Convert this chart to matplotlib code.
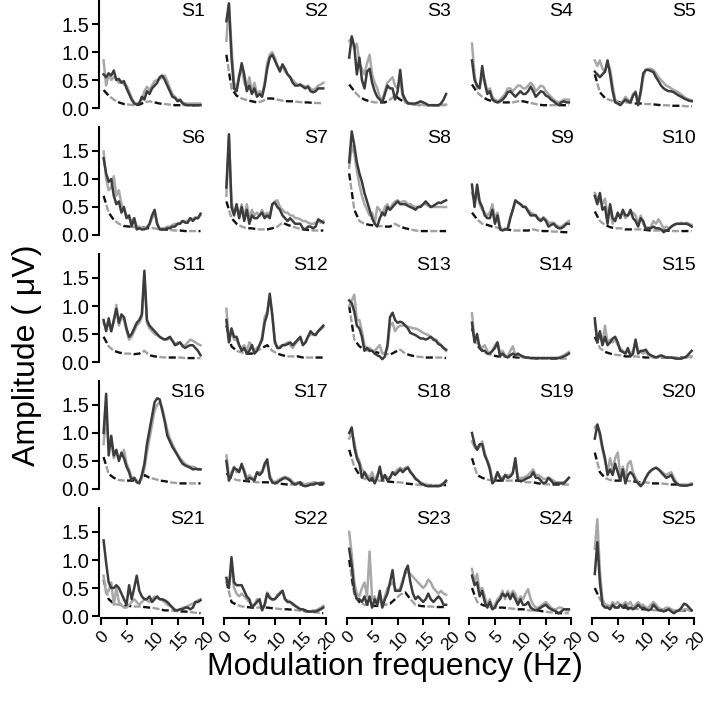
import numpy as np
import matplotlib
matplotlib.use("Agg")
import matplotlib.pyplot as plt
from matplotlib.transforms import ScaledTranslation

plt.rcParams['font.family'] = ['Liberation Sans', 'DejaVu Sans']

# modulation frequencies (Hz)
freq = [0.5 * k for k in range(1, 40)]
noise_freq = [k + 0.5 for k in range(20)]

x_ticks = [0, 5, 10, 15, 20]
y_ticks = [0.0, 0.5, 1.0, 1.5]

S1_dark = [.60, .55, .62, .58, .67, .50, .52, .45, .48, .35, .25, .15, .08, .06, .08, .20, .15, .30, .25, .35, .40, .45, .55, .58, .50, .40, .30, .20, .18, .12, .15, .08, .06, .05, .05, .05, .05, .05, .05]
S1_gray = [.85, .40, .60, .50, .55, .52, .45, .48, .42, .40, .30, .18, .10, .08, .10, .15, .30, .38, .32, .40, .48, .50, .52, .55, .58, .48, .35, .25, .20, .15, .12, .10, .08, .08, .08, .08, .08, .08, .08]
S1_noise = [.32, .22, .15, .10, .07, .06, .05, .06, .10, .12, .10, .08, .07, .06, .05, .05, .05, .05, .05, .05]

S2_dark = [1.55, 1.87, 0.9, 0.35, 0.3, 0.55, 0.8, 0.6, 0.3, 0.4, 0.25, 0.35, 0.2, 0.25, 0.2, 0.4, 0.7, 0.9, 0.95, 0.85, 0.75, 0.65, 0.78, 0.7, 0.6, 0.55, 0.45, 0.4, 0.4, 0.42, 0.38, 0.35, 0.38, 0.3, 0.28, 0.3, 0.35, 0.35, 0.35]
S2_gray = [1.2, 1.85, 1.1, 0.45, 0.35, 0.6, 0.7, 0.45, 0.35, 0.55, 0.3, 0.45, 0.25, 0.3, 0.25, 0.45, 0.8, 0.95, 1.0, 0.9, 0.75, 0.7, 0.75, 0.65, 0.6, 0.55, 0.5, 0.45, 0.42, 0.4, 0.4, 0.38, 0.4, 0.35, 0.32, 0.35, 0.4, 0.42, 0.45]
S2_noise = [.95, .35, .22, .17, .14, .12, .10, .12, .17, .17, .15, .13, .12, .12, .11, .10, .10, .09, .09, .08]

S3_dark = [0.9, 1.28, 1.1, 0.6, 0.9, 0.5, 0.35, 0.65, 0.7, 0.45, 0.3, 0.2, 0.15, 0.1, 0.25, 0.4, 0.35, 0.35, 0.15, 0.3, 0.68, 0.25, 0.15, 0.08, 0.08, 0.08, 0.08, 0.1, 0.12, 0.1, 0.08, 0.05, 0.05, 0.05, 0.05, 0.05, 0.08, 0.15, 0.25]
S3_gray = [1.2, 1.25, 1.05, 1.15, 0.8, 0.7, 0.6, 0.8, 0.95, 0.6, 0.45, 0.35, 0.2, 0.15, 0.3, 0.45, 0.5, 0.55, 0.4, 0.35, 0.5, 0.2, 0.1, 0.1, 0.08, 0.06, 0.06, 0.06, 0.06, 0.06, 0.06, 0.05, 0.05, 0.05, 0.05, 0.05, 0.05, 0.06, 0.06]
S3_noise = [.42, .30, .20, .15, .12, .10, .10, .10, .15, .22, .15, .10, .08, .06, .05, .05, .05, .05, .05, .05]

S4_dark = [0.85, 0.5, 0.4, 0.35, 0.75, 0.45, 0.25, 0.3, 0.15, 0.12, 0.1, 0.12, 0.15, 0.2, 0.28, 0.3, 0.25, 0.2, 0.25, 0.3, 0.25, 0.25, 0.3, 0.38, 0.3, 0.2, 0.25, 0.3, 0.28, 0.22, 0.2, 0.15, 0.12, 0.08, 0.05, 0.1, 0.12, 0.1, 0.1]
S4_gray = [1.15, 0.6, 0.35, 0.4, 0.55, 0.5, 0.3, 0.35, 0.2, 0.15, 0.12, 0.15, 0.2, 0.25, 0.35, 0.35, 0.3, 0.35, 0.4, 0.4, 0.35, 0.35, 0.4, 0.45, 0.4, 0.3, 0.35, 0.4, 0.38, 0.3, 0.25, 0.2, 0.15, 0.12, 0.1, 0.12, 0.15, 0.15, 0.15]
S4_noise = [.42, .28, .20, .15, .12, .10, .10, .10, .10, .12, .12, .10, .08, .06, .05, .05, .05, .05, .05, .05]

S5_dark = [0.65, 0.6, 0.55, 0.6, 0.65, 0.85, 0.6, 0.3, 0.1, 0.08, 0.05, 0.1, 0.15, 0.12, 0.1, 0.22, 0.28, 0.05, 0.3, 0.62, 0.68, 0.68, 0.66, 0.64, 0.55, 0.48, 0.4, 0.35, 0.32, 0.3, 0.3, 0.28, 0.25, 0.22, 0.2, 0.17, 0.15, 0.13, 0.12]
S5_gray = [0.85, 0.75, 0.85, 0.7, 0.65, 0.8, 0.7, 0.4, 0.15, 0.1, 0.08, 0.12, 0.2, 0.15, 0.12, 0.25, 0.3, 0.1, 0.25, 0.55, 0.68, 0.7, 0.7, 0.68, 0.62, 0.55, 0.5, 0.45, 0.4, 0.38, 0.35, 0.32, 0.3, 0.27, 0.24, 0.2, 0.17, 0.15, 0.14]
S5_noise = [.60, .28, .18, .14, .12, .10, .10, .09, .08, .08, .07, .07, .06, .05, .05, .04, .04, .04, .03, .03]

S6_dark = [1.37, 1.1, 0.95, 1.0, 0.7, 0.55, 0.6, 0.4, 0.5, 0.3, 0.35, 0.15, 0.3, 0.1, 0.12, 0.1, 0.1, 0.12, 0.2, 0.35, 0.45, 0.2, 0.1, 0.1, 0.1, 0.12, 0.12, 0.15, 0.15, 0.2, 0.2, 0.25, 0.22, 0.22, 0.3, 0.25, 0.3, 0.3, 0.38]
S6_gray = [1.49, 1.0, 0.8, 0.85, 1.05, 0.7, 0.8, 0.55, 0.45, 0.35, 0.3, 0.25, 0.3, 0.15, 0.15, 0.12, 0.12, 0.15, 0.18, 0.3, 0.4, 0.2, 0.12, 0.12, 0.12, 0.15, 0.15, 0.18, 0.2, 0.2, 0.22, 0.25, 0.25, 0.25, 0.3, 0.28, 0.32, 0.3, 0.35]
S6_noise = [.70, .40, .27, .20, .16, .15, .14, .14, .13, .12, .12, .10, .10, .09, .08, .08, .07, .07, .07, .07]

S7_dark = [0.85, 1.8, 0.5, 0.35, 0.55, 0.3, 0.5, 0.25, 0.45, 0.2, 0.35, 0.3, 0.3, 0.35, 0.4, 0.3, 0.35, 0.3, 0.55, 0.58, 0.5, 0.45, 0.35, 0.3, 0.25, 0.3, 0.25, 0.2, 0.2, 0.2, 0.12, 0.1, 0.15, 0.15, 0.12, 0.15, 0.28, 0.25, 0.22]
S7_gray = [0.7, 1.75, 0.6, 0.4, 0.5, 0.35, 0.55, 0.3, 0.55, 0.3, 0.45, 0.35, 0.4, 0.35, 0.45, 0.35, 0.4, 0.35, 0.55, 0.6, 0.62, 0.5, 0.45, 0.4, 0.4, 0.35, 0.35, 0.3, 0.3, 0.28, 0.25, 0.25, 0.22, 0.2, 0.2, 0.22, 0.25, 0.22, 0.25]
S7_noise = [.60, .30, .20, .15, .12, .12, .10, .10, .10, .12, .15, .22, .18, .15, .12, .10, .09, .08, .08, .08]

S8_dark = [1.3, 1.85, 1.6, 1.3, 1.1, 0.95, 0.75, 0.6, 0.45, 0.3, 0.2, 0.15, 0.3, 0.4, 0.35, 0.5, 0.45, 0.5, 0.55, 0.6, 0.55, 0.55, 0.55, 0.52, 0.5, 0.48, 0.45, 0.5, 0.5, 0.55, 0.6, 0.55, 0.5, 0.52, 0.55, 0.58, 0.57, 0.6, 0.62]
S8_gray = [1.2, 1.6, 1.45, 1.15, 0.9, 0.7, 0.55, 0.45, 0.35, 0.4, 0.2, 0.5, 0.45, 0.35, 0.5, 0.55, 0.45, 0.55, 0.6, 0.62, 0.58, 0.6, 0.6, 0.55, 0.55, 0.52, 0.5, 0.5, 0.52, 0.55, 0.55, 0.52, 0.5, 0.5, 0.5, 0.5, 0.5, 0.5, 0.5]
S8_noise = [1.10, .45, .25, .20, .18, .17, .16, .15, .15, .20, .15, .12, .10, .08, .07, .07, .07, .07, .07, .07]

S9_dark = [0.9, 0.5, 0.9, 0.6, 0.5, 0.35, 0.3, 0.3, 0.45, 0.2, 0.35, 0.1, 0.08, 0.1, 0.1, 0.3, 0.45, 0.62, 0.58, 0.55, 0.5, 0.5, 0.42, 0.35, 0.35, 0.35, 0.28, 0.25, 0.3, 0.25, 0.15, 0.18, 0.2, 0.15, 0.12, 0.12, 0.15, 0.2, 0.2]
S9_gray = [0.75, 0.6, 0.75, 0.55, 0.45, 0.4, 0.35, 0.4, 0.55, 0.3, 0.4, 0.15, 0.1, 0.1, 0.12, 0.3, 0.45, 0.6, 0.58, 0.55, 0.52, 0.5, 0.45, 0.4, 0.38, 0.35, 0.3, 0.28, 0.32, 0.28, 0.22, 0.22, 0.22, 0.18, 0.15, 0.15, 0.18, 0.22, 0.25]
S9_noise = [.40, .28, .20, .18, .15, .13, .12, .10, .08, .08, .08, .08, .10, .08, .07, .07, .06, .06, .05, .05]

S10_dark = [0.7, 0.55, 0.75, 0.45, 0.5, 0.2, 0.55, 0.3, 0.25, 0.4, 0.3, 0.45, 0.35, 0.35, 0.45, 0.3, 0.25, 0.15, 0.3, 0.25, 0.1, 0.12, 0.12, 0.15, 0.12, 0.12, 0.1, 0.05, 0.08, 0.1, 0.15, 0.18, 0.2, 0.2, 0.2, 0.2, 0.2, 0.18, 0.15]
S10_gray = [0.75, 0.65, 0.6, 0.55, 0.65, 0.35, 0.5, 0.2, 0.3, 0.35, 0.35, 0.4, 0.3, 0.35, 0.4, 0.4, 0.35, 0.2, 0.35, 0.2, 0.15, 0.12, 0.15, 0.25, 0.2, 0.28, 0.2, 0.12, 0.15, 0.12, 0.15, 0.18, 0.2, 0.2, 0.22, 0.2, 0.22, 0.2, 0.18]
S10_noise = [.42, .25, .18, .14, .12, .12, .10, .10, .10, .10, .09, .08, .08, .08, .08, .07, .07, .07, .07, .07]

S11_dark = [0.75, 0.55, 0.78, 0.55, 0.75, 0.95, 0.7, 0.85, 0.8, 0.6, 0.45, 0.5, 0.6, 0.7, 0.75, 0.85, 1.63, 0.75, 0.65, 0.6, 0.55, 0.5, 0.45, 0.42, 0.4, 0.42, 0.45, 0.38, 0.3, 0.32, 0.35, 0.28, 0.25, 0.28, 0.3, 0.3, 0.25, 0.2, 0.12]
S11_gray = [0.7, 0.6, 0.7, 0.55, 0.7, 1.02, 0.65, 0.8, 0.75, 0.55, 0.4, 0.45, 0.55, 0.65, 0.7, 0.8, 1.55, 0.7, 0.6, 0.55, 0.5, 0.48, 0.45, 0.42, 0.4, 0.4, 0.42, 0.38, 0.32, 0.35, 0.35, 0.3, 0.3, 0.35, 0.4, 0.38, 0.35, 0.32, 0.3]
S11_noise = [.45, .28, .20, .17, .15, .15, .14, .15, .20, .12, .10, .09, .08, .08, .08, .08, .07, .07, .07, .07]

S12_dark = [0.75, 0.35, 0.6, 0.45, 0.45, 0.3, 0.2, 0.25, 0.15, 0.2, 0.3, 0.15, 0.2, 0.3, 0.4, 0.7, 0.85, 1.22, 0.85, 0.35, 0.25, 0.25, 0.3, 0.3, 0.32, 0.35, 0.3, 0.35, 0.4, 0.45, 0.3, 0.35, 0.45, 0.55, 0.5, 0.48, 0.55, 0.6, 0.65]
S12_gray = [0.95, 0.4, 0.55, 0.4, 0.4, 0.3, 0.25, 0.3, 0.2, 0.35, 0.3, 0.2, 0.25, 0.3, 0.45, 0.8, 0.9, 1.15, 0.8, 0.4, 0.25, 0.28, 0.3, 0.32, 0.35, 0.3, 0.25, 0.32, 0.38, 0.42, 0.32, 0.35, 0.45, 0.5, 0.48, 0.5, 0.55, 0.58, 0.62]
S12_noise = [.65, .28, .20, .17, .15, .15, .20, .25, .30, .20, .15, .12, .10, .10, .10, .08, .08, .08, .08, .08]

S13_dark = [1.1, 1.05, 0.9, 0.65, 0.6, 0.45, 0.2, 0.25, 0.2, 0.2, 0.15, 0.12, 0.1, 0.05, 0.1, 0.3, 0.8, 0.88, 0.75, 0.7, 0.72, 0.7, 0.65, 0.6, 0.52, 0.5, 0.48, 0.45, 0.42, 0.42, 0.4, 0.42, 0.45, 0.4, 0.38, 0.32, 0.3, 0.25, 0.22]
S13_gray = [1.0, 1.1, 1.2, 0.75, 0.75, 0.55, 0.3, 0.25, 0.25, 0.2, 0.2, 0.25, 0.3, 0.15, 0.15, 0.25, 0.65, 0.7, 0.55, 0.62, 0.65, 0.65, 0.65, 0.63, 0.62, 0.6, 0.6, 0.58, 0.55, 0.52, 0.5, 0.48, 0.45, 0.42, 0.4, 0.35, 0.3, 0.25, 0.2]
S13_noise = [1.00, .40, .28, .22, .20, .18, .16, .15, .13, .18, .22, .15, .12, .10, .09, .08, .08, .08, .08, .07]

S14_dark = [0.7, 0.35, 0.5, 0.25, 0.2, 0.2, 0.15, 0.15, 0.2, 0.25, 0.35, 0.1, 0.15, 0.1, 0.08, 0.12, 0.15, 0.12, 0.15, 0.12, 0.1, 0.08, 0.08, 0.07, 0.07, 0.07, 0.07, 0.07, 0.07, 0.07, 0.07, 0.07, 0.07, 0.07, 0.07, 0.08, 0.1, 0.12, 0.15]
S14_gray = [0.87, 0.4, 0.35, 0.3, 0.25, 0.3, 0.2, 0.15, 0.2, 0.3, 0.35, 0.15, 0.2, 0.12, 0.1, 0.2, 0.28, 0.12, 0.12, 0.1, 0.08, 0.08, 0.07, 0.07, 0.07, 0.07, 0.07, 0.07, 0.07, 0.07, 0.07, 0.07, 0.07, 0.07, 0.08, 0.1, 0.12, 0.15, 0.18]
S14_noise = [.60, .30, .20, .15, .12, .10, .10, .10, .09, .08, .08, .08, .07, .06, .06, .06, .06, .06, .06, .06]

S15_dark = [0.78, 0.35, 0.55, 0.3, 0.45, 0.3, 0.35, 0.42, 0.45, 0.35, 0.2, 0.18, 0.15, 0.25, 0.1, 0.15, 0.4, 0.15, 0.2, 0.2, 0.22, 0.15, 0.12, 0.1, 0.08, 0.1, 0.12, 0.1, 0.08, 0.08, 0.08, 0.07, 0.06, 0.06, 0.06, 0.08, 0.1, 0.15, 0.2]
S15_gray = [0.7, 0.4, 0.45, 0.35, 0.65, 0.35, 0.4, 0.35, 0.4, 0.3, 0.25, 0.2, 0.15, 0.2, 0.15, 0.2, 0.35, 0.2, 0.18, 0.15, 0.18, 0.12, 0.1, 0.1, 0.08, 0.1, 0.1, 0.08, 0.08, 0.08, 0.08, 0.07, 0.07, 0.07, 0.07, 0.08, 0.08, 0.1, 0.1]
S15_noise = [.45, .25, .18, .15, .13, .12, .10, .10, .10, .09, .08, .08, .08, .08, .08, .08, .08, .08, .08, .08]

S16_dark = [1.0, 1.7, 0.6, 0.95, 0.6, 0.7, 0.5, 0.65, 0.55, 0.4, 0.3, 0.15, 0.2, 0.12, 0.1, 0.25, 0.45, 0.8, 1.05, 1.3, 1.55, 1.62, 1.6, 1.4, 1.2, 0.95, 0.85, 0.75, 0.68, 0.6, 0.52, 0.45, 0.42, 0.4, 0.38, 0.35, 0.36, 0.35, 0.35]
S16_gray = [0.8, 1.3, 0.8, 0.85, 0.55, 0.65, 0.55, 0.6, 0.7, 0.45, 0.35, 0.2, 0.2, 0.15, 0.12, 0.2, 0.35, 0.65, 0.9, 1.15, 1.4, 1.5, 1.55, 1.45, 1.25, 1.05, 0.9, 0.8, 0.7, 0.62, 0.55, 0.5, 0.45, 0.42, 0.4, 0.4, 0.38, 0.36, 0.35]
S16_noise = [.57, .27, .20, .16, .15, .15, .15, .14, .25, .20, .18, .15, .14, .12, .11, .10, .10, .10, .10, .10]

S17_dark = [0.5, 0.15, 0.25, 0.38, 0.35, 0.3, 0.45, 0.3, 0.15, 0.2, 0.18, 0.15, 0.3, 0.25, 0.3, 0.45, 0.53, 0.2, 0.12, 0.1, 0.12, 0.15, 0.18, 0.2, 0.18, 0.15, 0.1, 0.08, 0.1, 0.12, 0.06, 0.05, 0.06, 0.08, 0.08, 0.1, 0.1, 0.1, 0.1]
S17_gray = [0.6, 0.25, 0.3, 0.4, 0.3, 0.35, 0.4, 0.35, 0.2, 0.25, 0.2, 0.2, 0.28, 0.3, 0.3, 0.4, 0.48, 0.25, 0.15, 0.12, 0.15, 0.18, 0.2, 0.22, 0.2, 0.18, 0.12, 0.1, 0.12, 0.12, 0.1, 0.08, 0.1, 0.1, 0.12, 0.12, 0.1, 0.12, 0.12]
S17_noise = [.28, .20, .16, .15, .14, .13, .12, .12, .12, .11, .10, .09, .08, .08, .08, .08, .08, .08, .08, .08]

S18_dark = [1.0, 1.1, 0.75, 0.55, 0.45, 0.2, 0.3, 0.2, 0.15, 0.2, 0.1, 0.2, 0.4, 0.15, 0.25, 0.15, 0.2, 0.3, 0.25, 0.3, 0.35, 0.3, 0.35, 0.38, 0.3, 0.25, 0.18, 0.15, 0.1, 0.08, 0.06, 0.05, 0.05, 0.05, 0.05, 0.05, 0.06, 0.1, 0.15]
S18_gray = [0.9, 1.0, 0.85, 0.6, 0.5, 0.35, 0.3, 0.25, 0.2, 0.3, 0.15, 0.25, 0.35, 0.2, 0.25, 0.2, 0.2, 0.28, 0.3, 0.35, 0.38, 0.35, 0.38, 0.4, 0.32, 0.25, 0.2, 0.15, 0.12, 0.1, 0.08, 0.07, 0.06, 0.06, 0.06, 0.06, 0.08, 0.1, 0.12]
S18_noise = [.70, .40, .25, .18, .16, .15, .15, .14, .13, .12, .12, .10, .09, .08, .07, .07, .07, .07, .07, .07]

S19_dark = [1.0, 0.8, 0.7, 0.8, 0.8, 0.6, 0.5, 0.35, 0.1, 0.15, 0.3, 0.2, 0.15, 0.25, 0.2, 0.22, 0.28, 0.55, 0.15, 0.15, 0.15, 0.18, 0.2, 0.22, 0.3, 0.2, 0.2, 0.15, 0.1, 0.12, 0.2, 0.15, 0.1, 0.1, 0.1, 0.1, 0.1, 0.15, 0.2]
S19_gray = [0.85, 0.75, 0.7, 0.75, 0.85, 0.65, 0.5, 0.4, 0.15, 0.2, 0.3, 0.2, 0.2, 0.25, 0.25, 0.25, 0.3, 0.5, 0.2, 0.2, 0.2, 0.22, 0.25, 0.3, 0.35, 0.25, 0.25, 0.22, 0.18, 0.18, 0.2, 0.18, 0.15, 0.12, 0.12, 0.12, 0.12, 0.15, 0.2]
S19_noise = [.55, .25, .20, .17, .15, .15, .15, .15, .15, .15, .13, .12, .12, .10, .09, .08, .08, .08, .08, .08]

S20_dark = [0.9, 1.15, 1.0, 0.75, 0.55, 0.25, 0.35, 0.25, 0.45, 0.3, 0.15, 0.35, 0.1, 0.25, 0.3, 0.25, 0.15, 0.1, 0.05, 0.1, 0.2, 0.28, 0.33, 0.36, 0.38, 0.35, 0.3, 0.25, 0.2, 0.22, 0.25, 0.15, 0.1, 0.07, 0.06, 0.06, 0.06, 0.07, 0.08]
S20_gray = [1.1, 1.15, 0.95, 0.7, 0.5, 0.3, 0.55, 0.35, 0.55, 0.65, 0.25, 0.4, 0.2, 0.45, 0.5, 0.3, 0.2, 0.12, 0.08, 0.12, 0.2, 0.28, 0.32, 0.36, 0.38, 0.35, 0.32, 0.28, 0.25, 0.28, 0.3, 0.2, 0.12, 0.08, 0.07, 0.07, 0.07, 0.08, 0.1]
S20_noise = [.65, .30, .20, .16, .15, .15, .15, .14, .13, .12, .12, .10, .10, .10, .09, .08, .08, .08, .08, .08]

S21_dark = [1.35, 0.95, 0.6, 0.5, 0.5, 0.55, 0.5, 0.4, 0.3, 0.2, 0.55, 0.3, 0.5, 0.72, 0.45, 0.35, 0.3, 0.3, 0.35, 0.25, 0.3, 0.35, 0.3, 0.3, 0.28, 0.25, 0.2, 0.15, 0.1, 0.1, 0.12, 0.12, 0.15, 0.15, 0.12, 0.15, 0.25, 0.25, 0.28]
S21_gray = [0.72, 0.4, 0.45, 0.6, 0.2, 0.5, 0.25, 0.2, 0.15, 0.15, 0.2, 0.25, 0.3, 0.25, 0.2, 0.25, 0.3, 0.28, 0.25, 0.3, 0.35, 0.32, 0.3, 0.28, 0.25, 0.2, 0.18, 0.15, 0.12, 0.1, 0.12, 0.15, 0.15, 0.18, 0.2, 0.22, 0.25, 0.28, 0.3]
S21_noise = [.65, .30, .22, .20, .18, .18, .17, .17, .16, .15, .14, .12, .10, .10, .09, .08, .08, .07, .06, .05]

S22_dark = [0.68, 0.5, 1.05, 0.6, 0.55, 0.55, 0.55, 0.45, 0.35, 0.3, 0.15, 0.2, 0.25, 0.3, 0.1, 0.2, 0.4, 0.32, 0.3, 0.3, 0.35, 0.4, 0.45, 0.3, 0.25, 0.25, 0.22, 0.18, 0.15, 0.12, 0.12, 0.1, 0.08, 0.08, 0.08, 0.08, 0.1, 0.12, 0.15]
S22_gray = [0.6, 0.55, 0.9, 0.5, 0.4, 0.35, 0.4, 0.35, 0.3, 0.25, 0.2, 0.2, 0.3, 0.25, 0.15, 0.2, 0.42, 0.35, 0.28, 0.3, 0.38, 0.42, 0.45, 0.3, 0.28, 0.25, 0.2, 0.18, 0.15, 0.12, 0.1, 0.1, 0.08, 0.08, 0.1, 0.1, 0.12, 0.15, 0.18]
S22_noise = [.62, .25, .20, .17, .16, .15, .15, .15, .15, .14, .13, .12, .12, .11, .10, .09, .08, .07, .06, .05]

S23_dark = [1.2, 0.9, 0.45, 0.3, 0.3, 0.25, 0.35, 0.2, 0.35, 0.15, 0.3, 0.2, 0.45, 0.15, 0.3, 0.4, 0.6, 0.82, 0.45, 0.45, 0.45, 0.6, 0.8, 0.9, 0.6, 0.4, 0.3, 0.35, 0.3, 0.25, 0.3, 0.4, 0.3, 0.25, 0.3, 0.35, 0.3, 0.2, 0.2]
S23_gray = [1.5, 1.1, 0.6, 0.4, 0.35, 0.5, 0.6, 0.35, 1.15, 0.3, 0.35, 0.2, 0.3, 0.2, 0.35, 0.5, 0.55, 0.6, 0.5, 0.45, 0.5, 0.65, 0.75, 0.8, 0.75, 0.7, 0.65, 0.6, 0.55, 0.5, 0.55, 0.65, 0.6, 0.5, 0.45, 0.4, 0.45, 0.4, 0.38]
S23_noise = [1.00, .38, .25, .20, .20, .18, .18, .20, .22, .30, .38, .42, .30, .20, .18, .17, .17, .16, .16, .16]

S24_dark = [0.72, 0.55, 0.6, 0.35, 0.45, 0.25, 0.15, 0.25, 0.12, 0.15, 0.25, 0.3, 0.4, 0.35, 0.4, 0.3, 0.4, 0.3, 0.2, 0.3, 0.2, 0.2, 0.25, 0.15, 0.12, 0.1, 0.12, 0.15, 0.18, 0.2, 0.15, 0.12, 0.1, 0.08, 0.05, 0.08, 0.12, 0.12, 0.12]
S24_gray = [0.84, 0.6, 0.75, 0.45, 0.5, 0.35, 0.2, 0.3, 0.15, 0.2, 0.3, 0.35, 0.45, 0.3, 0.45, 0.35, 0.45, 0.4, 0.25, 0.35, 0.3, 0.4, 0.48, 0.3, 0.2, 0.15, 0.15, 0.18, 0.22, 0.25, 0.2, 0.15, 0.12, 0.12, 0.15, 0.15, 0.12, 0.1, 0.1]
S24_noise = [.50, .25, .20, .17, .15, .15, .15, .14, .13, .12, .12, .10, .10, .10, .08, .07, .06, .05, .05, .05]

S25_dark = [0.75, 1.32, 0.6, 0.2, 0.15, 0.15, 0.12, 0.2, 0.15, 0.15, 0.2, 0.15, 0.2, 0.12, 0.15, 0.12, 0.15, 0.2, 0.15, 0.15, 0.12, 0.1, 0.12, 0.2, 0.15, 0.1, 0.1, 0.08, 0.1, 0.12, 0.08, 0.05, 0.08, 0.1, 0.15, 0.22, 0.2, 0.15, 0.1]
S25_gray = [1.2, 1.73, 0.8, 0.3, 0.2, 0.2, 0.15, 0.25, 0.2, 0.25, 0.2, 0.2, 0.25, 0.2, 0.25, 0.15, 0.2, 0.25, 0.2, 0.2, 0.15, 0.15, 0.2, 0.25, 0.2, 0.15, 0.12, 0.12, 0.15, 0.15, 0.12, 0.1, 0.1, 0.1, 0.1, 0.12, 0.12, 0.1, 0.1]
S25_noise = [.50, .30, .20, .17, .15, .15, .15, .14, .13, .12, .12, .11, .10, .10, .10, .10, .10, .10, .10, .10]

subjects = [f"S{i}" for i in range(1, 26)]
g = globals()
dark_series = [g[f"{s}_dark"] for s in subjects]
gray_series = [g[f"{s}_gray"] for s in subjects]
noise_series = [g[f"{s}_noise"] for s in subjects]

# ---- layout (pixel based) ----
FW, FH = 709, 703
fig = plt.figure(figsize=(FW / 100, FH / 100), dpi=100)

XMIN, XMAX = -0.4, 20.0
YMIN, YMAX = -0.03, 1.93
PX_PER_HZ = 5.1
PX_PER_UNIT = 56.0
W = (XMAX - XMIN) * PX_PER_HZ
H = (YMAX - YMIN) * PX_PER_UNIT

DARK = '#3c3c3c'
GRAY = '#a8a8a8'
NOISE_BLACK = '#111111'
NOISE_GRAY = '#a0a0a0'

for i, s in enumerate(subjects):
    r, c = divmod(i, 5)
    left_px = 99 + 122.8 * c
    zero_px = 108 + 127.0 * r
    bottom_px = zero_px - YMIN * PX_PER_UNIT
    ax = fig.add_axes([left_px / FW, (FH - bottom_px) / FH, W / FW, H / FH])
    ax.set_xlim(XMIN, XMAX)
    ax.set_ylim(YMIN, YMAX)
    ax.patch.set_alpha(0)

    nf = noise_freq[:len(noise_series[i])]
    ax.plot(nf, noise_series[i], color=NOISE_GRAY, lw=1.7, ls=(4, (3, 5)), zorder=2)
    ax.plot(nf, noise_series[i], color=NOISE_BLACK, lw=1.7, ls=(0, (3, 5)), zorder=2)
    ax.plot(freq[:len(gray_series[i])], gray_series[i], color=GRAY, lw=1.8, zorder=3)
    ax.plot(freq[:len(dark_series[i])], dark_series[i], color=DARK, lw=1.8, zorder=4)

    ax.text(20.4, 1.72, s, ha='right', va='center', fontsize=14, color='black')

    for sp in ('top', 'right'):
        ax.spines[sp].set_visible(False)
    ax.spines['left'].set_visible(c == 0)
    ax.spines['bottom'].set_visible(r == 4)
    ax.spines['left'].set_linewidth(1.5)
    ax.spines['bottom'].set_linewidth(1.5)
    ax.spines['left'].set_bounds(0, YMAX)
    ax.spines['bottom'].set_bounds(0, 20)

    if c == 0:
        ax.set_yticks(y_ticks)
        ax.set_yticklabels([f"{v:.1f}" for v in y_ticks])
        ax.tick_params(axis='y', length=5, width=1.5, labelsize=14.5, pad=2)
    else:
        ax.set_yticks([])
    if r == 4:
        ax.set_xticks(x_ticks)
        ax.set_xticklabels([str(v) for v in x_ticks], rotation=45, ha='center')
        ax.tick_params(axis='x', length=5, width=1.5, labelsize=12.5, pad=3)
        for lab in ax.get_xticklabels():
            lab.set_transform(lab.get_transform() + ScaledTranslation(2.0 / 100, 0, fig.dpi_scale_trans))
    else:
        ax.set_xticks([])

fig.text(395 / FW, 1 - 667 / FH, "Modulation frequency (Hz)", ha='center', va='center', fontsize=23)
fig.text(27 / FW, 1 - 355 / FH, "Amplitude ( μV)", ha='center', va='center', rotation=90, fontsize=23)

fig.savefig("out.png", dpi=100)
